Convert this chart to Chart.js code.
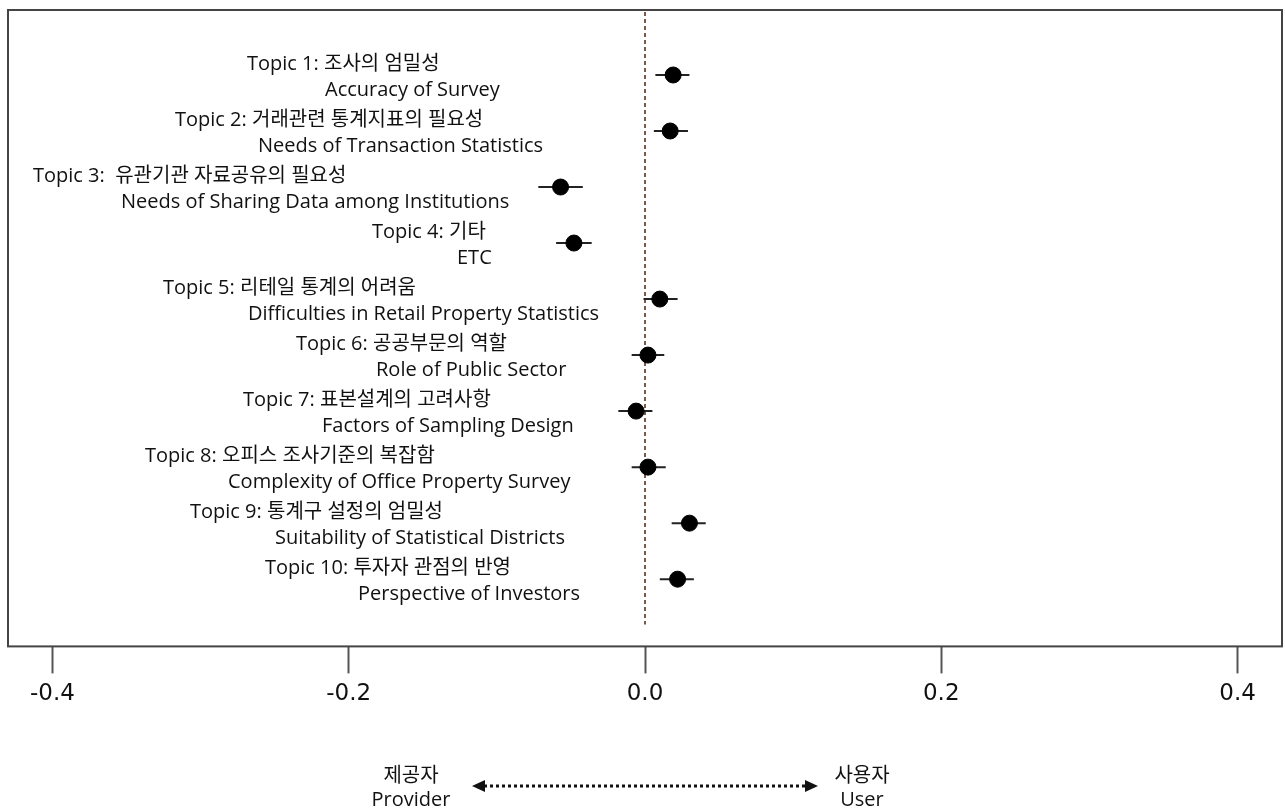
<!DOCTYPE html>
<html>
<head>
<meta charset="utf-8">
<script src="https://cdn.jsdelivr.net/npm/chart.js@4"></script>
<style>
    html, body { margin: 0; padding: 0; background: #fff; overflow: hidden; }
    canvas { display: block; }
</style>
</head>
<body>
<canvas id="coef-chart" width="1285" height="812"></canvas>
<script>
const topicsKo = [
    'Topic 1: 조사의 엄밀성',
    'Topic 2: 거래관련 통계지표의 필요성',
    'Topic 3:  유관기관 자료공유의 필요성',
    'Topic 4: 기타',
    'Topic 5: 리테일 통계의 어려움',
    'Topic 6: 공공부문의 역할',
    'Topic 7: 표본설계의 고려사항',
    'Topic 8: 오피스 조사기준의 복잡함',
    'Topic 9: 통계구 설정의 엄밀성',
    'Topic 10: 투자자 관점의 반영'
];
const topicsEn = [
    'Accuracy of Survey',
    'Needs of Transaction Statistics',
    'Needs of Sharing Data among Institutions',
    'ETC',
    'Difficulties in Retail Property Statistics',
    'Role of Public Sector',
    'Factors of Sampling Design',
    'Complexity of Office Property Survey',
    'Suitability of Statistical Districts',
    'Perspective of Investors'
];
const estimates = [0.019, 0.017, -0.057, -0.048, 0.010, 0.002, -0.006, 0.002, 0.030, 0.022];
const lowerCI = [0.007, 0.006, -0.072, -0.060, -0.001, -0.009, -0.018, -0.009, 0.018, 0.010];
const upperCI = [0.030, 0.029, -0.042, -0.036, 0.022, 0.013, 0.005, 0.014, 0.041, 0.033];
const xTicks = [-0.4, -0.2, 0.0, 0.2, 0.4];

// left edge (px) of the two label lines for each topic
const labelLeft = [
    [247, 325], [175, 258], [33, 121], [372, 457], [163, 248],
    [296, 376], [243, 322], [145, 228], [190, 275], [265, 358]
];

const FONT = '"Open Sans", "Noto Sans CJK KR", sans-serif';

const errorBars = {
    id: 'errorBars',
    beforeDatasetsDraw(chart) {
        const { ctx, chartArea, scales: { x, y } } = chart;
        ctx.save();
        // reference line at zero
        const x0 = x.getPixelForValue(0);
        ctx.strokeStyle = '#7b5a4c';
        ctx.lineWidth = 2;
        ctx.setLineDash([4, 3]);
        ctx.beginPath();
        ctx.moveTo(x0, chartArea.top + 2);
        ctx.lineTo(x0, chartArea.bottom - 22);
        ctx.stroke();
        ctx.setLineDash([]);

        ctx.strokeStyle = '#222';
        ctx.lineWidth = 2;
        estimates.forEach((v, i) => {
            const py = y.getPixelForValue(i);
            ctx.beginPath();
            ctx.moveTo(x.getPixelForValue(lowerCI[i]), py);
            ctx.lineTo(x.getPixelForValue(upperCI[i]), py);
            ctx.stroke();
        });
        ctx.restore();
    },
    afterDraw(chart) {
        const { ctx, chartArea, scales: { y } } = chart;
        ctx.save();
        // frame
        ctx.strokeStyle = '#444';
        ctx.lineWidth = 2;
        ctx.strokeRect(chartArea.left, chartArea.top, chartArea.right - chartArea.left, chartArea.bottom - chartArea.top);

        // topic labels
        ctx.fillStyle = '#111';
        ctx.font = '20px ' + FONT;
        ctx.textAlign = 'left';
        ctx.textBaseline = 'middle';
        topicsKo.forEach((t, i) => {
            const py = y.getPixelForValue(i);
            ctx.fillText(t, labelLeft[i][0], py - 11);
            ctx.fillText(topicsEn[i], labelLeft[i][1], py + 15);
        });

        // provider / user direction legend
        ctx.textAlign = 'center';
        ctx.font = '20px ' + FONT;
        ctx.fillText('제공자', 411, 776);
        ctx.fillText('Provider', 411, 800);
        ctx.fillText('사용자', 862, 776);
        ctx.fillText('User', 862, 800);

        const ay = 786, ax1 = 472, ax2 = 818;
        ctx.strokeStyle = '#111';
        ctx.lineWidth = 3;
        ctx.setLineDash([3, 3]);
        ctx.beginPath();
        ctx.moveTo(ax1 + 12, ay);
        ctx.lineTo(ax2 - 12, ay);
        ctx.stroke();
        ctx.setLineDash([]);
        ctx.beginPath();
        ctx.moveTo(ax1, ay);
        ctx.lineTo(ax1 + 13, ay - 6);
        ctx.lineTo(ax1 + 13, ay + 6);
        ctx.closePath();
        ctx.moveTo(ax2, ay);
        ctx.lineTo(ax2 - 13, ay - 6);
        ctx.lineTo(ax2 - 13, ay + 6);
        ctx.closePath();
        ctx.fill();
        ctx.restore();
    }
};

const ctx = document.getElementById('coef-chart').getContext('2d');
new Chart(ctx, {
    type: 'scatter',
    data: {
        datasets: [{
            data: estimates.map((v, i) => ({ x: v, y: i })),
            backgroundColor: '#000',
            borderColor: '#000',
            pointRadius: 8,
            pointHoverRadius: 8
        }]
    },
    options: {
        responsive: false,
        animation: false,
        layout: {
            autoPadding: false,
            padding: { left: 8, right: 3, top: 10, bottom: 97 }
        },
        plugins: {
            legend: { display: false },
            tooltip: { enabled: false }
        },
        scales: {
            x: {
                type: 'linear',
                min: -0.43,
                max: 0.43,
                afterBuildTicks: axis => {
                    axis.ticks = xTicks.map(v => ({ value: v }));
                },
                afterFit: axis => {
                    axis.paddingLeft = 0;
                    axis.paddingRight = 0;
                },
                border: { display: false },
                grid: {
                    drawOnChartArea: false,
                    drawTicks: true,
                    tickLength: 27,
                    tickWidth: 2,
                    color: '#555'
                },
                ticks: {
                    color: '#111',
                    padding: 7,
                    maxRotation: 0,
                    font: { family: '"DejaVu Sans", sans-serif', size: 23 },
                    callback: v => Number(v).toFixed(1)
                }
            },
            y: {
                type: 'linear',
                display: false,
                reverse: true,
                min: -1.16,
                max: 10.2
            }
        }
    },
    plugins: [errorBars]
});
</script>
</body>
</html>
